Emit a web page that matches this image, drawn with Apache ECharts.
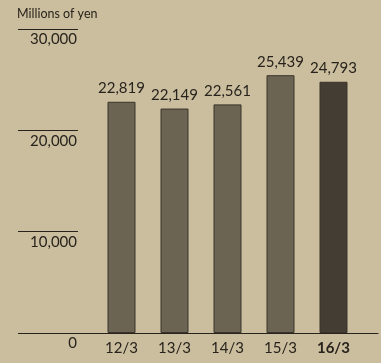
<!DOCTYPE html>
<html>
<head>
<meta charset="utf-8">
<script src="https://cdn.jsdelivr.net/npm/echarts@6/dist/echarts.min.js"></script>
<style>
  html, body { margin: 0; padding: 0; background: #cabe9e; }
  #chart { width: 381px; height: 363px; }
</style>
</head>
<body>
<div id="chart"></div>
<script>
// Net sales by fiscal year, millions of yen
const categories = ['12/3', '13/3', '14/3', '15/3', '16/3'];
const values = [22819, 22149, 22561, 25439, 24793];
const yMin = 0;
const yMax = 30000;
const yStep = 10000;
const unitLabel = 'Millions of yen';

const textColor = '#28231c';
const barColor = '#6b6452';
const latestColor = '#443d33';
const fontFamily = 'Lato, "Open Sans", sans-serif';
const lastIdx = values.length - 1;

const fmt = v => v.toLocaleString('en-US');

const chart = echarts.init(document.getElementById('chart'), null, { renderer: 'canvas' });
chart.setOption({
  backgroundColor: '#cabe9e',
  animation: false,
  title: {
    text: unitLabel,
    left: 17, top: 7, padding: 0,
    textStyle: { fontFamily, fontSize: 12.5, fontWeight: 'normal', color: textColor }
  },
  grid: [
    { left: 78, right: 3, top: 29, bottom: 30 },
    { left: 95, right: 21, top: 29, bottom: 30 }
  ],
  xAxis: [
    {
      gridIndex: 0, type: 'value', min: 0, max: 1,
      axisLine: { show: true, lineStyle: { color: textColor, width: 1 } },
      axisTick: { show: false }, axisLabel: { show: false }, splitLine: { show: false }
    },
    {
      gridIndex: 1, type: 'category', data: categories,
      axisLine: { show: false }, axisTick: { show: false },
      axisLabel: {
        interval: 0, margin: 8,
        fontFamily, fontSize: 15, color: textColor,
        formatter: (v, i) => i === lastIdx ? '{b|' + v + '}' : v,
        rich: { b: { fontFamily, fontSize: 15, fontWeight: 'bold', color: textColor } }
      }
    }
  ],
  yAxis: [
    {
      gridIndex: 0, type: 'value', min: yMin, max: yMax, interval: yStep,
      axisLine: { show: false },
      axisTick: { show: true, length: 60, lineStyle: { color: textColor, width: 1 } },
      splitLine: { show: false },
      axisLabel: {
        margin: 1, verticalAlign: 'top', padding: [3, 0, 0, 0],
        fontFamily, fontSize: 15, color: textColor,
        formatter: v => fmt(v)
      }
    },
    {
      gridIndex: 1, type: 'value', min: yMin, max: yMax, interval: yStep,
      show: false
    }
  ],
  series: [{
    type: 'bar',
    xAxisIndex: 1, yAxisIndex: 1,
    barWidth: 28,
    data: values.map((v, i) => ({
      value: v,
      itemStyle: { color: i === lastIdx ? latestColor : barColor }
    })),
    itemStyle: { borderColor: '#3a342a', borderWidth: 1 },
    label: {
      show: true, position: 'top', distance: 6,
      fontFamily, fontSize: 15, color: textColor,
      formatter: p => fmt(p.value)
    }
  }]
});
</script>
</body>
</html>
